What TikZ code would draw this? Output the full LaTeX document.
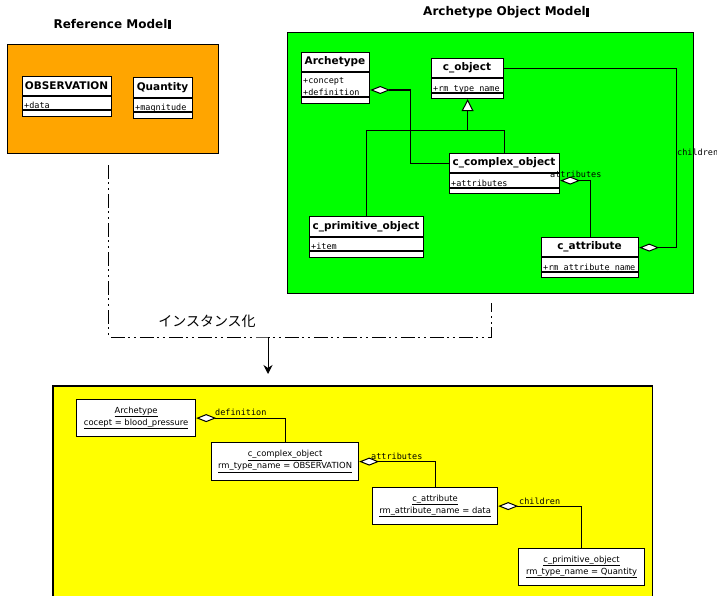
\documentclass[tikz,border=0pt]{standalone}
\usepackage{fontspec}
\setmainfont{DejaVu Sans}
\newfontfamily\monofont{DejaVu Sans Mono}
\newfontfamily\jpfont{Noto Sans CJK JP}
\usetikzlibrary{arrows.meta,calc}

\definecolor{refcol}{HTML}{FFA500}
\definecolor{aomcol}{HTML}{00FF00}
\definecolor{instcol}{HTML}{FFFF00}

\tikzset{
  group/.style={draw=black, line width=1.2pt, anchor=north west, inner sep=0pt},
  clsbox/.style={draw=black, fill=white, line width=1.2pt, anchor=north west, inner sep=0pt},
  clsname/.style={font=\fontsize{10.5}{12}\selectfont\bfseries, inner sep=0pt},
  attr/.style={font=\monofont\fontsize{8.5}{10}\selectfont, anchor=base west, inner sep=0pt},
  rule/.style={line width=1.2pt},
  title/.style={font=\fontsize{12}{14}\selectfont\bfseries, inner sep=0pt, anchor=base},
  assoc/.style={line width=1.2pt},
  agg/.style={assoc, {Diamond[fill=white, length=20pt, width=8pt, line width=1pt]}-},
  gen/.style={assoc, -{Triangle[fill=white, length=12pt, width=12pt, line width=1pt]}},
  rolelabel/.style={font=\monofont\fontsize{8.5}{10}\selectfont, inner sep=0pt, anchor=base west},
  inst/.style={draw=black, fill=white, line width=1.2pt, anchor=north west, inner sep=0pt,
    font=\fontsize{8.4}{12}\selectfont, align=center},
  ddash/.style={line width=1pt, dash pattern=on 14pt off 3pt on 2pt off 4pt on 2pt off 4pt},
}

% UML class: id, x1, y1, x2, y2, header bottom, attribute bottom, name, attribute
\newcommand\umlclass[9]{%
  \node[clsbox, minimum width={#4-#2}, minimum height={#5-#3}] (#1) at (#2,#3) {};
  \draw[rule] (#2,#6) -- (#4,#6) (#2,#7) -- (#4,#7);
  \node[clsname] (#1-name) at ({(#2+#4)/2},{(#3+#6)/2}) {#8};
  \node[attr] (#1-attr) at ({#2+2},{#7-1.5}) {#9};
}

% instance object: id, x1, y1, x2, y2, first line, second line
\newcommand\instobj[7]{%
  \node[inst, minimum width={#4-#2}, minimum height={#5-#3}] (#1) at (#2,#3)
    {\underline{#6}\\\underline{#7}};
}

\begin{document}
\begin{tikzpicture}[x=1pt,y=-1pt]
\useasboundingbox (0,0) rectangle (717,596);

% ---------- Reference Model ----------
\node[title] (reftitle) at (110.5,29) {Reference Model};
\fill ([xshift=0.5pt,yshift=4.5pt]reftitle.east) rectangle ++(3pt,-9pt);
\node[group, fill=refcol, minimum width=211, minimum height=109] (refbox) at (7,44) {};

\umlclass{obs}{22}{76}{111}{116}{96}{110}{OBSERVATION}{+data}
\umlclass{qty}{133}{77}{192}{118}{98}{112}{Quantity}{+magnitude}

% ---------- Archetype Object Model ----------
\node[title] (aomtitle) at (504.5,15.5) {Archetype Object Model};
\fill ([xshift=0.5pt,yshift=4.5pt]aomtitle.east) rectangle ++(3pt,-9pt);
\node[group, fill=aomcol, minimum width=406, minimum height=261] (aombox) at (287,32) {};

\umlclass{arch}{301}{52}{369}{103}{72}{97}{Archetype}{+definition}
\node[attr] (arch-attr2) at (303,83.5) {+concept};
\umlclass{cobj}{431}{58}{503}{98}{78}{93}{c\_object}{+rm\_type\_name}
\umlclass{ccx}{449}{153}{559}{193}{173}{188}{c\_complex\_object}{+attributes}
\umlclass{cprim}{309}{216}{423}{257}{237}{251}{c\_primitive\_object}{+item}
\umlclass{cattr}{541}{237}{638}{277}{257}{272}{c\_attribute}{+rm\_attribute\_name}

% generalisation tree
\coordinate (gj) at ([yshift=-31pt]cobj.south);
\draw[gen] (gj) -- (cobj.south);
\draw[assoc] (cprim.north) |- (gj) -| (ccx.north);

% aggregations
\draw[agg] ([yshift=-38pt]arch.north east) -- ++(40,0) |- ([yshift=10pt]ccx.west);
\draw[agg] ([yshift=-7pt]ccx.east) -| (cattr.north);
\draw[agg] ([yshift=10pt]cattr.east) -- ++(37,0) |- ([yshift=10pt]cobj.east);
\node[rolelabel] (lblattrs) at (550,178) {attributes};
\node[rolelabel] (lblchild) at (677,156) {children};

% ---------- instantiation ----------
\coordinate (split) at (268,337);
\draw[ddash] ([xshift=-4.5pt,yshift=-11pt]refbox.south) |- (split)
  -| ([xshift=1pt,yshift=-9pt]aombox.south);
\node[font=\jpfont\fontsize{14}{16}\selectfont, inner sep=0pt] (instlabel) at (207,321) {インスタンス化};

% ---------- instance model ----------
\node[group, draw=none, fill=instcol, minimum width=598, minimum height=212] (instbox) at (53,386) {};
\draw[line width=1.2pt] (instbox.south west) -- (instbox.north west)
  -- (instbox.north east) -- (instbox.south east);
\draw[line width=1pt, -{Stealth[length=9pt,width=9pt]}, shorten >=12pt] (split) -- (split |- instbox.north);

\instobj{iarch}{76}{399}{195}{436}{Archetype}{cocept = blood\_pressure}
\instobj{iccx}{211}{442}{358}{480}{c\_complex\_object}{rm\_type\_name = OBSERVATION}
\instobj{iattr}{372}{487}{497}{524}{c\_attribute}{rm\_attribute\_name = data}
\instobj{iprim}{518}{548}{644}{585}{c\_primitive\_object}{rm\_type\_name = Quantity}

\draw[agg] (iarch.east) -| (iccx.north);
\draw[agg] (iccx.east) -| (iattr.north);
\draw[agg] (iattr.east) -| (iprim.north);
\node[rolelabel] (ldef) at (215,415.5) {definition};
\node[rolelabel] (lattr) at (371,459.5) {attributes};
\node[rolelabel] (lchild) at (519,504) {children};
\end{tikzpicture}
\end{document}
